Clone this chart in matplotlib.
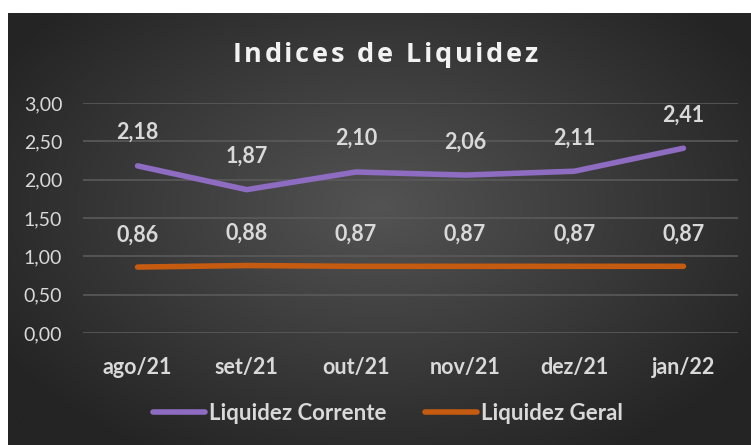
import numpy as np
from matplotlib import pyplot as plt
from matplotlib.colors import LinearSegmentedColormap

meses = ['ago/21', 'set/21', 'out/21', 'nov/21', 'dez/21', 'jan/22']
liq_corrente = [2.18, 1.87, 2.10, 2.06, 2.11, 2.41]
liq_geral = [0.86, 0.88, 0.87, 0.87, 0.87, 0.87]
yticks = [0.0, 0.5, 1.0, 1.5, 2.0, 2.5, 3.0]
titulo = 'Indices de Liquidez'

roxo = '#8e6cc2'
laranja = '#c55a11'
texto = '#d9d9d9'
fonte = 'Lato'

W, H = 751, 445
fig = plt.figure(figsize=(W / 100, H / 100), dpi=100)
fig.patch.set_facecolor('white')

# fundo com gradiente radial
bg = fig.add_axes([8 / W, 0, 1 - 8 / W, (H - 13) / H])
bg.set_axis_off()
yy, xx = np.mgrid[-1:1:300j, -1:1:500j]
r = np.sqrt(xx ** 2 + ((yy + 0.1) * 0.9) ** 2)
grad = np.clip(1 - r / 1.2, 0, 1)
cmap = LinearSegmentedColormap.from_list('fundo', ['#242424', '#535353'])
bg.imshow(grad, cmap=cmap, vmin=0, vmax=1, aspect='auto',
          extent=[0, 1, 0, 1], interpolation='bilinear')
bg.set_xlim(0, 1)
bg.set_ylim(0, 1)

ax = fig.add_axes([83 / W, (H - 333) / H, (738 - 83) / W, (333 - 103) / H])
ax.patch.set_alpha(0)
x = np.arange(len(meses))
ax.set_xlim(-0.5, len(meses) - 0.5)
ax.set_ylim(0, 3)
ax.set_yticks(yticks)
ax.set_yticklabels([f'{v:.2f}'.replace('.', ',') for v in yticks],
                   color=texto, fontsize=14, family=fonte)
ax.set_xticks(x)
ax.set_xticklabels(meses, color=texto, fontsize=15.5, family=fonte, fontweight='bold')
ax.tick_params(length=0, axis='y', pad=15)
ax.tick_params(length=0, axis='x', pad=17)
for s in ax.spines.values():
    s.set_visible(False)
ax.grid(axis='y', color='#5a5a5a', linewidth=1.2)
ax.set_axisbelow(True)

ax.plot(x, liq_corrente, color=roxo, linewidth=4, solid_capstyle='round',
        label='Liquidez Corrente')
ax.plot(x, liq_geral, color=laranja, linewidth=4, solid_capstyle='round',
        label='Liquidez Geral')

for xi, v in zip(x, liq_corrente):
    ax.annotate(f'{v:.2f}'.replace('.', ','), (xi, v), xytext=(0, 24),
                textcoords='offset points', ha='center', va='center',
                color=texto, fontsize=15.5, fontweight='bold', family=fonte)
for xi, v in zip(x, liq_geral):
    ax.annotate(f'{v:.2f}'.replace('.', ','), (xi, v), xytext=(0, 23),
                textcoords='offset points', ha='center', va='center',
                color=texto, fontsize=15.5, fontweight='bold', family=fonte)

# titulo com espacamento entre letras
renderer = fig.canvas.get_renderer()
kw = dict(color='#f2f2f2', fontsize=19.5, fontweight='bold', family='Open Sans',
          va='center', ha='left')
espaco = 2.6
larguras = []
for ch in titulo:
    t = fig.text(0, 0, ch if ch != ' ' else 'n', **kw)
    w = t.get_window_extent(renderer).width
    if ch == ' ':
        w *= 0.45
    larguras.append(w)
    t.remove()
total = sum(larguras) + espaco * (len(titulo) - 1)
xpos = 385 - total / 2
for ch, w in zip(titulo, larguras):
    if ch != ' ':
        fig.text(xpos / W, 1 - 55 / H, ch, **kw)
    xpos += w + espaco

leg = fig.legend(loc='center', bbox_to_anchor=(388 / W, 1 - 413 / H), ncol=2,
                 frameon=False, handlelength=2.35, handletextpad=0.18,
                 columnspacing=1.7,
                 prop={'family': fonte, 'size': 16, 'weight': 'bold'})
for t in leg.get_texts():
    t.set_color(texto)

fig.savefig('out.png', dpi=100, facecolor=fig.get_facecolor())
